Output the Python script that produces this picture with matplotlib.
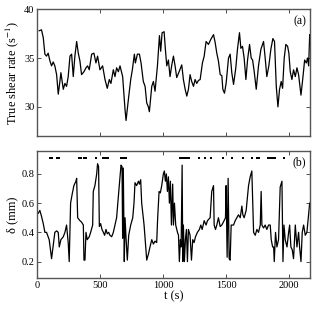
import numpy as np
import matplotlib
matplotlib.use("Agg")
from matplotlib import pyplot as plt

plt.rcParams['font.family'] = ['Liberation Serif', 'DejaVu Serif']
plt.rcParams['mathtext.fontset'] = 'stix'

# %% data

t_shear = [16, 34, 48, 61, 74, 87, 101, 114, 127, 140, 154, 167, 180, 188, 207, 220, 233, 246,
           260, 273, 286, 299, 313, 326, 339, 352, 371, 387, 400, 413, 432, 450, 466, 479, 498,
           519, 538, 556, 572, 585, 604, 617, 630, 644, 657, 678, 697, 705, 723, 742, 755, 771,
           779, 795, 811, 824, 842, 856, 869, 882, 890, 909, 922, 935, 954, 970, 980, 991, 1007,
           1017, 1028, 1041, 1054, 1068, 1081, 1094, 1107, 1126, 1147, 1160, 1174, 1187, 1200,
           1213, 1226, 1240, 1253, 1266, 1279, 1293, 1311, 1325, 1340, 1359, 1377, 1399, 1412,
           1425, 1438, 1452, 1465, 1473, 1486, 1499, 1518, 1531, 1544, 1558, 1576, 1589, 1605,
           1616, 1629, 1642, 1656, 1669, 1685, 1698, 1709, 1722, 1738, 1756, 1775, 1796, 1809,
           1822, 1838, 1854, 1870, 1883, 1897, 1910, 1923, 1936, 1947, 1960, 1973, 1987, 1997,
           2008, 2021, 2034, 2048, 2061, 2074, 2093, 2109, 2122, 2135, 2146, 2154, 2162]
shear = [37.8, 37.9, 37.1, 35.4, 35.2, 35.5, 34.7, 34.2, 34.6, 34.2, 33.3, 31.3, 32.6, 33.5,
         31.8, 32.4, 32.1, 33.1, 35.2, 35.4, 33.1, 35.2, 36.7, 35.5, 34.7, 33.3, 33.6, 34.0,
         34.2, 33.8, 35.4, 35.5, 34.5, 35.2, 33.8, 34.2, 32.8, 31.9, 32.8, 32.4, 33.8, 33.1,
         34.0, 33.6, 34.2, 33.1, 29.7, 28.6, 30.7, 32.8, 33.8, 35.4, 34.5, 35.4, 35.4, 34.5,
         32.6, 32.1, 30.4, 30.0, 29.5, 32.1, 32.6, 31.6, 34.2, 37.3, 35.7, 37.6, 37.7, 35.9,
         34.2, 34.8, 33.1, 34.3, 35.2, 34.2, 33.0, 33.6, 34.3, 32.8, 31.8, 31.1, 31.8, 33.3,
         32.6, 32.1, 32.8, 32.4, 32.7, 32.8, 34.5, 35.2, 36.7, 36.4, 36.9, 37.4, 36.6, 35.5,
         34.7, 33.3, 33.2, 31.8, 31.4, 32.4, 35.0, 35.4, 33.5, 32.3, 34.0, 35.9, 37.6, 36.0,
         36.2, 35.0, 32.8, 34.8, 36.4, 35.0, 34.8, 33.6, 31.8, 34.2, 35.9, 36.7, 35.0, 33.1,
         34.2, 35.9, 37.0, 36.7, 32.1, 30.0, 31.8, 32.6, 31.9, 35.0, 36.4, 36.2, 35.5, 33.6,
         32.8, 33.8, 33.1, 34.0, 33.3, 31.2, 33.1, 34.8, 34.5, 35.0, 34.2, 37.4]

t_delta = [8, 21, 34, 48, 61, 74, 87, 95, 101, 114, 127, 140, 154, 167, 175, 188, 207, 220, 233,
           246, 254, 265, 275, 291, 307, 313, 321, 339, 352, 366, 371, 379, 387, 397, 413, 424,
           440, 445, 458, 472, 479, 487, 493, 503, 514, 525, 535, 546, 556, 567, 577, 591, 604,
           617, 630, 644, 657, 665, 673, 678, 683, 691, 697, 705, 715, 726, 742, 758, 768, 776,
           789, 803, 811, 821, 829, 848, 861, 869, 882, 895, 909, 922, 935, 948, 956, 967, 977,
           988, 1001, 1009, 1017, 1025, 1033, 1041, 1049, 1057, 1065, 1075, 1081, 1089, 1099,
           1113, 1121, 1128, 1136, 1142, 1150, 1155, 1160, 1168, 1176, 1184, 1192, 1200, 1213,
           1224, 1234, 1245, 1256, 1271, 1287, 1298, 1309, 1325, 1340, 1351, 1372, 1385, 1399,
           1404, 1415, 1425, 1438, 1452, 1465, 1483, 1494, 1499, 1507, 1515, 1523, 1531, 1539,
           1558, 1571, 1584, 1597, 1611, 1624, 1632, 1642, 1658, 1677, 1690, 1703, 1717, 1730,
           1743, 1756, 1770, 1777, 1783, 1796, 1809, 1822, 1836, 1849, 1857, 1868, 1876, 1881,
           1891, 1902, 1915, 1928, 1942, 1950, 1958, 1968, 1982, 1995, 2003, 2013, 2024, 2034,
           2048, 2061, 2074, 2082, 2093, 2103, 2114, 2127, 2140, 2162]
delta = [0.53, 0.55, 0.51, 0.46, 0.40, 0.40, 0.37, 0.35, 0.31, 0.22, 0.31, 0.40, 0.41, 0.40,
         0.30, 0.35, 0.37, 0.40, 0.45, 0.33, 0.20, 0.60, 0.65, 0.72, 0.75, 0.77, 0.50, 0.48,
         0.47, 0.45, 0.21, 0.21, 0.40, 0.35, 0.37, 0.40, 0.45, 0.68, 0.72, 0.80, 0.87, 0.85,
         0.44, 0.46, 0.42, 0.40, 0.38, 0.42, 0.39, 0.40, 0.38, 0.37, 0.40, 0.45, 0.50, 0.65,
         0.78, 0.86, 0.85, 0.36, 0.84, 0.20, 0.50, 0.36, 0.21, 0.38, 0.45, 0.50, 0.60, 0.74,
         0.72, 0.75, 0.73, 0.76, 0.60, 0.45, 0.30, 0.21, 0.25, 0.30, 0.35, 0.32, 0.34, 0.33,
         0.50, 0.68, 0.67, 0.72, 0.80, 0.82, 0.75, 0.80, 0.68, 0.78, 0.60, 0.75, 0.45, 0.73,
         0.45, 0.60, 0.45, 0.40, 0.38, 0.20, 0.35, 0.30, 0.86, 0.20, 0.45, 0.20, 0.35, 0.42,
         0.20, 0.42, 0.38, 0.21, 0.35, 0.33, 0.37, 0.40, 0.42, 0.45, 0.42, 0.48, 0.45, 0.48,
         0.50, 0.68, 0.72, 0.45, 0.42, 0.45, 0.50, 0.44, 0.45, 0.48, 0.50, 0.72, 0.23, 0.77,
         0.22, 0.21, 0.45, 0.45, 0.48, 0.50, 0.52, 0.50, 0.58, 0.52, 0.50, 0.55, 0.72, 0.78,
         0.82, 0.40, 0.38, 0.42, 0.40, 0.45, 0.68, 0.45, 0.43, 0.45, 0.42, 0.45, 0.45, 0.35,
         0.30, 0.30, 0.20, 0.40, 0.30, 0.35, 0.71, 0.75, 0.20, 0.45, 0.35, 0.30, 0.40, 0.45,
         0.30, 0.28, 0.22, 0.45, 0.30, 0.40, 0.30, 0.20, 0.40, 0.45, 0.38, 0.40, 0.60]

# times flagged with a dot along the top of panel (b)
t_flag = [102, 116, 155, 170, 332, 346, 372, 384, 463, 524, 537, 550, 563, 664, 677, 690, 702,
          1135, 1147, 1159, 1171, 1183, 1195, 1207, 1285, 1330, 1378, 1477, 1543, 1635, 1702,
          1745, 1757, 1835, 1847, 1859, 1871, 1883, 1955]
flag_level = 0.91

# %% plot

fig = plt.figure(figsize=(3.18, 3.10), dpi=100)
ax1 = fig.add_axes([0.117, 0.561, 0.858, 0.409])
ax2 = fig.add_axes([0.117, 0.102, 0.858, 0.411])

ax1.plot(t_shear, shear, color='k', lw=0.9)
ax1.set_xlim(0, 2165)
ax1.set_ylim(27, 40)
ax1.set_yticks([30, 35, 40])
ax1.set_xticks([0, 500, 1000, 1500, 2000])
ax1.set_xticklabels([])
ax1.set_ylabel('True shear rate (s$^{-1}$)', fontsize=9, labelpad=2)
ax1.text(0.985, 0.95, '(a)', transform=ax1.transAxes, ha='right', va='top', fontsize=8.5)

ax2.plot(t_delta, delta, color='k', lw=0.9)
ax2.plot(t_flag, [flag_level] * len(t_flag), 's', color='k', ms=1.8, mew=0)
ax2.set_xlim(0, 2165)
ax2.set_ylim(0.085, 0.957)
ax2.set_yticks([0.2, 0.4, 0.6, 0.8])
ax2.set_xticks([0, 500, 1000, 1500, 2000])
ax2.set_ylabel('δ (mm)', fontsize=9, labelpad=2)
ax2.set_xlabel('t (s)', fontsize=9, labelpad=0)
ax2.text(0.985, 0.955, '(b)', transform=ax2.transAxes, ha='right', va='top', fontsize=8.5)

for ax in (ax1, ax2):
    ax.tick_params(direction='in', top=True, right=True, length=3, width=0.6,
                   labelsize=7.5, pad=2, color='#333333')
    for s in ax.spines.values():
        s.set_color('#555555')
        s.set_linewidth(1.0)

plt.savefig('out.png', dpi=100)
